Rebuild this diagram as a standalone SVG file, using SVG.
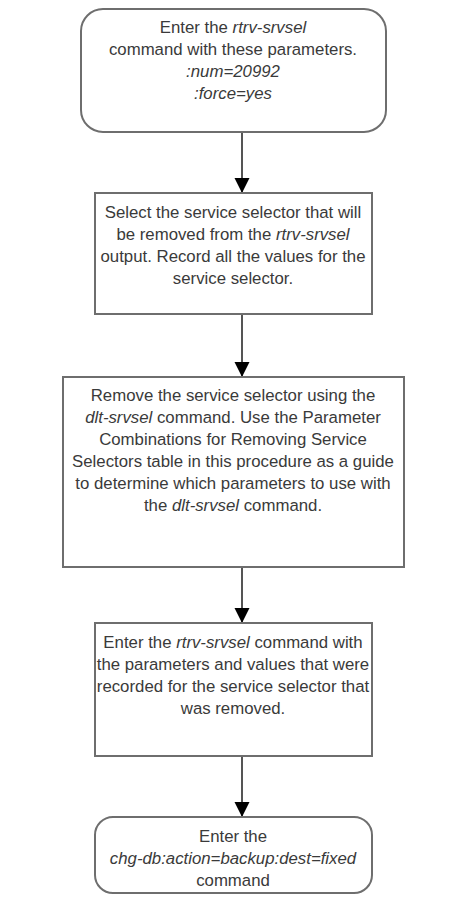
<svg xmlns="http://www.w3.org/2000/svg" width="465" height="904" viewBox="0 0 465 904">
<style>
.box{fill:#fff;stroke:#6e6e6e;stroke-width:2}
.t{font-family:"Liberation Sans",Arial,sans-serif;font-size:16.8px;fill:#3a3a3a;text-anchor:middle}
.i{font-style:italic}
.c{stroke:#555;stroke-width:2;fill:none}
</style>
<defs>
<marker id="a" markerWidth="15" markerHeight="16" refX="15" refY="7.5" orient="auto" markerUnits="userSpaceOnUse" viewBox="0 0 15 15">
<path d="M0,0 L15,7.5 L0,15 Z" fill="#000"/>
</marker>
</defs>
<g id="connectors">
<line class="c" x1="242" y1="132" x2="242" y2="193" marker-end="url(#a)"/>
<line class="c" x1="242" y1="314" x2="242" y2="377" marker-end="url(#a)"/>
<line class="c" x1="242" y1="567" x2="242" y2="623" marker-end="url(#a)"/>
<line class="c" x1="242" y1="756" x2="242" y2="817" marker-end="url(#a)"/>
</g>
<g id="n1">
<rect class="box" x="81" y="9" width="305" height="123" rx="22"/>
<text class="t" x="233" y="33">Enter the <tspan class="i">rtrv-srvsel</tspan></text>
<text class="t" x="233" y="55">command with these parameters.</text>
<text class="t i" x="233" y="77">:num=20992</text>
<text class="t i" x="233" y="99">:force=yes</text>
</g>
<g id="n2">
<rect class="box" x="95" y="193" width="277" height="121"/>
<text class="t" x="233" y="218">Select the service selector that will</text>
<text class="t" x="233" y="240">be removed from the <tspan class="i">rtrv-srvsel</tspan></text>
<text class="t" x="233" y="262">output. Record all the values for the</text>
<text class="t" x="233" y="284">service selector.</text>
</g>
<g id="n3">
<rect class="box" x="63" y="377" width="341" height="190"/>
<text class="t" x="233" y="401">Remove the service selector using the</text>
<text class="t" x="233" y="423"><tspan class="i">dlt-srvsel</tspan> command. Use the Parameter</text>
<text class="t" x="233" y="445">Combinations for Removing Service</text>
<text class="t" x="233" y="467">Selectors table in this procedure as a guide</text>
<text class="t" x="233" y="489">to determine which parameters to use with</text>
<text class="t" x="233" y="511">the <tspan class="i">dlt-srvsel</tspan> command.</text>
</g>
<g id="n4">
<rect class="box" x="95" y="623" width="277" height="133"/>
<text class="t" x="233" y="648">Enter the <tspan class="i">rtrv-srvsel</tspan> command with</text>
<text class="t" x="233" y="670">the parameters and values that were</text>
<text class="t" x="233" y="692">recorded for the service selector that</text>
<text class="t" x="233" y="714">was removed.</text>
</g>
<g id="n5">
<rect class="box" x="95" y="817" width="277" height="76" rx="18"/>
<text class="t" x="233" y="842">Enter the</text>
<text class="t i" x="233" y="864">chg-db:action=backup:dest=fixed</text>
<text class="t" x="233" y="886">command</text>
</g>
</svg>
